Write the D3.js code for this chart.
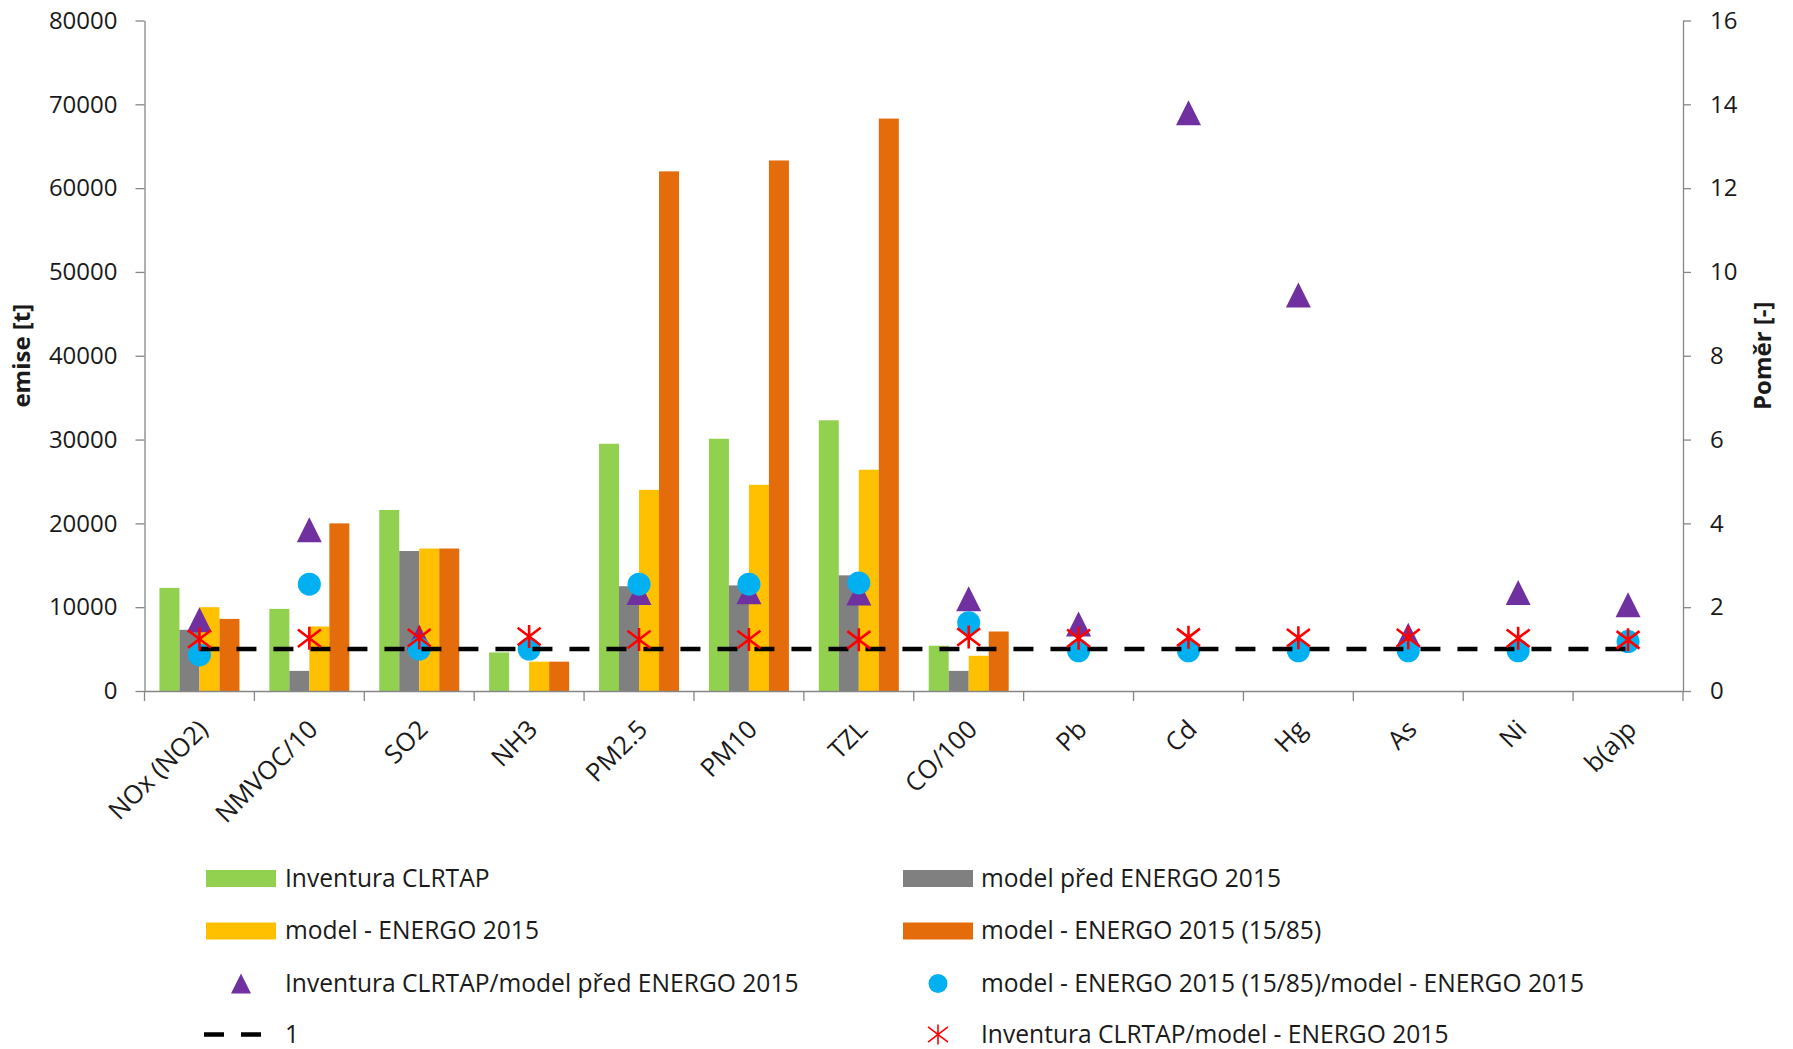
<!DOCTYPE html>
<html>
<head>
<meta charset="utf-8">
<script src="https://cdn.jsdelivr.net/npm/d3@7"></script>
<style>
  html, body { margin: 0; padding: 0; background: #fff; }
  svg { display: block; font-family: "Open Sans", "Noto Sans", sans-serif; }
</style>
</head>
<body>
<svg id="chart" width="1793" height="1049"></svg>
<script>
// Categories on the x axis
const categories = ["NOx (NO2)", "NMVOC/10", "SO2", "NH3", "PM2.5", "PM10", "TZL",
  "CO/100", "Pb", "Cd", "Hg", "As", "Ni", "b(a)p"];

// Emissions [t] (left axis)
const inventuraCLRTAP = [12300, 9800, 21600, 4600, 29500, 30100, 32300, 5400, 0, 0, 0, 0, 0, 0];
const modelPred = [7300, 2400, 16700, 0, 12500, 12600, 13800, 2400, 0, 0, 0, 0, 0, 0];
const modelEnergo = [10000, 7700, 17000, 3500, 24000, 24600, 26400, 4200, 0, 0, 0, 0, 0, 0];
const modelEnergo1585 = [8600, 20000, 17000, 3500, 62000, 63300, 68300, 7100, 0, 0, 0, 0, 0, 0];

// Ratios [-] (right axis)
const ratioInvPred = [1.7, 3.85, 1.29, null, 2.35, 2.37, 2.34, 2.2, 1.6, 13.8, 9.45, 1.33, 2.35, 2.06];
const ratio1585Energo = [0.86, 2.55, 1.0, 1.0, 2.55, 2.55, 2.58, 1.63, 0.96, 0.96, 0.96, 0.96, 0.96, 1.18];
const ratioOne = [1, 1, 1, 1, 1, 1, 1, 1, 1, 1, 1, 1, 1, 1];
const ratioInvEnergo = [1.24, 1.26, 1.27, 1.3, 1.23, 1.23, 1.22, 1.29, 1.26, 1.28, 1.27, 1.27, 1.26, 1.22];

// Tick values
const leftTicks = [0, 10000, 20000, 30000, 40000, 50000, 60000, 70000, 80000];
const rightTicks = [0, 2, 4, 6, 8, 10, 12, 14, 16];

const barSeries = [
  { name: "Inventura CLRTAP", values: inventuraCLRTAP, color: "#92D050" },
  { name: "model před ENERGO 2015", values: modelPred, color: "#808080" },
  { name: "model - ENERGO 2015", values: modelEnergo, color: "#FFC000" },
  { name: "model - ENERGO 2015 (15/85)", values: modelEnergo1585, color: "#E46C0A" }
];

const svg = d3.select("#chart");
const plot = { left: 144.5, right: 1683, top: 20.5, bottom: 691 };
const axisColor = "#868686";
const textColor = "#1a1a1a";

const x = d3.scaleBand().domain(categories).range([plot.left, plot.right]).paddingInner(0).paddingOuter(0);
const bw = x.bandwidth();
const xSub = d3.scaleBand().domain(barSeries.map(s => s.name))
  .range([bw * 0.136, bw * 0.864]).padding(0);
const yL = d3.scaleLinear().domain([0, 80000]).range([plot.bottom, plot.top]);
const yR = d3.scaleLinear().domain([0, 16]).range([plot.bottom, plot.top]);
const cx = c => x(c) + bw / 2;

// Bars
const gBars = svg.append("g");
barSeries.forEach(s => {
  gBars.selectAll(null)
    .data(categories.map((c, i) => ({ c, v: s.values[i] })).filter(d => d.v > 0))
    .join("rect")
    .attr("x", d => x(d.c) + xSub(s.name))
    .attr("width", xSub.bandwidth())
    .attr("y", d => yL(d.v))
    .attr("height", d => yL(0) - yL(d.v))
    .attr("fill", s.color);
});

// Left axis
const axL = svg.append("g").attr("transform", `translate(${plot.left},0)`)
  .call(d3.axisLeft(yL).tickValues(leftTicks).tickSize(9).tickSizeOuter(0).tickPadding(18).tickFormat(d3.format("d")));
// Right axis
const axR = svg.append("g").attr("transform", `translate(${plot.right},0)`)
  .call(d3.axisRight(yR).tickValues(rightTicks).tickSize(8).tickSizeOuter(0).tickPadding(19).tickFormat(d3.format("d")));
// Bottom axis line and category ticks at band edges
const axB = svg.append("g").attr("transform", `translate(0,${plot.bottom})`)
  .call(d3.axisBottom(x).tickSize(0).tickSizeOuter(0).tickFormat(""));
axB.selectAll(null)
  .data(categories.map(c => x(c)).concat([x(categories[categories.length - 1]) + bw]))
  .join("line")
  .attr("x1", d => d).attr("x2", d => d)
  .attr("y1", 0).attr("y2", 10)
  .attr("stroke", axisColor).attr("stroke-width", 1.3);

[axL, axR, axB].forEach(a => {
  a.select(".domain").attr("stroke", axisColor).attr("stroke-width", 1.3);
  a.selectAll(".tick line").attr("stroke", axisColor).attr("stroke-width", 1.3);
  a.selectAll(".tick text").attr("fill", textColor).style("font-size", "24px")
    .style("font-family", "'Open Sans', sans-serif");
});

// Category labels, rotated
svg.append("g").selectAll("text")
  .data(categories)
  .join("text")
  .attr("transform", d => `translate(${cx(d) + 10},${plot.bottom + 40}) rotate(-45)`)
  .attr("text-anchor", "end")
  .attr("fill", textColor)
  .style("font-size", "25.5px")
  .text(d => d);

// Axis titles
svg.append("text")
  .attr("transform", `translate(${plot.left - 115},${(plot.top + plot.bottom) / 2}) rotate(-90)`)
  .attr("text-anchor", "middle")
  .attr("font-weight", "bold")
  .attr("fill", textColor)
  .style("font-size", "24px")
  .text("emise [t]");
svg.append("text")
  .attr("transform", `translate(${plot.right + 88},${(plot.top + plot.bottom) / 2}) rotate(-90)`)
  .attr("text-anchor", "middle")
  .attr("font-weight", "bold")
  .attr("fill", textColor)
  .style("font-size", "24px")
  .text("Poměr [-]");

// Marker shapes
const triPath = s => `M0,${-s / 2}L${s / 2},${s / 2}L${-s / 2},${s / 2}Z`;
const starPath = s => {
  const h = s / 2, d = s * 0.38;
  return `M${-h},${-d}L${h},${d}M${-h},${d}L${h},${-d}M0,${-h}L0,${h}`;
};

const gMarks = svg.append("g");
const pts = vals => categories.map((c, i) => ({ c, v: vals[i] })).filter(d => d.v != null);

// Triangles: Inventura CLRTAP / model před ENERGO 2015
gMarks.selectAll(null).data(pts(ratioInvPred)).join("path")
  .attr("transform", d => `translate(${cx(d.c)},${yR(d.v)})`)
  .attr("d", triPath(25))
  .attr("fill", "#7030A0");

// Circles: model - ENERGO 2015 (15/85) / model - ENERGO 2015
gMarks.selectAll(null).data(pts(ratio1585Energo)).join("circle")
  .attr("cx", d => cx(d.c)).attr("cy", d => yR(d.v)).attr("r", 11.5)
  .attr("fill", "#00B0F0");

// Reference line at 1
gMarks.append("path")
  .datum(pts(ratioOne))
  .attr("d", d3.line().x(d => cx(d.c)).y(d => yR(d.v)))
  .attr("fill", "none").attr("stroke", "#000").attr("stroke-width", 4.5)
  .attr("stroke-dasharray", "20,17");

// Stars: Inventura CLRTAP / model - ENERGO 2015
gMarks.selectAll(null).data(pts(ratioInvEnergo)).join("path")
  .attr("transform", d => `translate(${cx(d.c)},${yR(d.v)})`)
  .attr("d", starPath(23))
  .attr("fill", "none").attr("stroke", "#FF0000").attr("stroke-width", 2.6);

// Legend
const legendRows = [878.5, 931, 983.5, 1034.5];
const colX = [{ sw: 206, tx: 285 }, { sw: 903, tx: 981 }];
const legendItems = [
  { type: "bar", s: barSeries[0], col: 0, row: 0 },
  { type: "bar", s: barSeries[1], col: 1, row: 0 },
  { type: "bar", s: barSeries[2], col: 0, row: 1 },
  { type: "bar", s: barSeries[3], col: 1, row: 1 },
  { type: "tri", name: "Inventura CLRTAP/model před ENERGO 2015", col: 0, row: 2 },
  { type: "circle", name: "model - ENERGO 2015 (15/85)/model - ENERGO 2015", col: 1, row: 2 },
  { type: "line", name: "1", col: 0, row: 3 },
  { type: "star", name: "Inventura CLRTAP/model - ENERGO 2015", col: 1, row: 3 }
];
const gLeg = svg.append("g");
legendItems.forEach(it => {
  const y = legendRows[it.row];
  const c = colX[it.col];
  const mid = c.sw + 35;
  if (it.type === "bar") {
    gLeg.append("rect").attr("x", c.sw).attr("y", y - 8.5).attr("width", 70).attr("height", 17).attr("fill", it.s.color);
  } else if (it.type === "tri") {
    gLeg.append("path").attr("transform", `translate(${mid},${y})`).attr("d", triPath(20)).attr("fill", "#7030A0");
  } else if (it.type === "circle") {
    gLeg.append("circle").attr("cx", mid).attr("cy", y).attr("r", 9.5).attr("fill", "#00B0F0");
  } else if (it.type === "line") {
    gLeg.append("line").attr("x1", c.sw - 2).attr("x2", c.sw + 60).attr("y1", y).attr("y2", y)
      .attr("stroke", "#000").attr("stroke-width", 4.5).attr("stroke-dasharray", "20,17");
  } else if (it.type === "star") {
    gLeg.append("path").attr("transform", `translate(${mid},${y})`).attr("d", starPath(20))
      .attr("fill", "none").attr("stroke", "#FF0000").attr("stroke-width", 1.6);
  }
  gLeg.append("text").attr("x", c.tx).attr("y", y + 8)
    .attr("fill", textColor).style("font-size", "24.6px")
    .text(it.type === "bar" ? it.s.name : it.name);
});
</script>
</body>
</html>
